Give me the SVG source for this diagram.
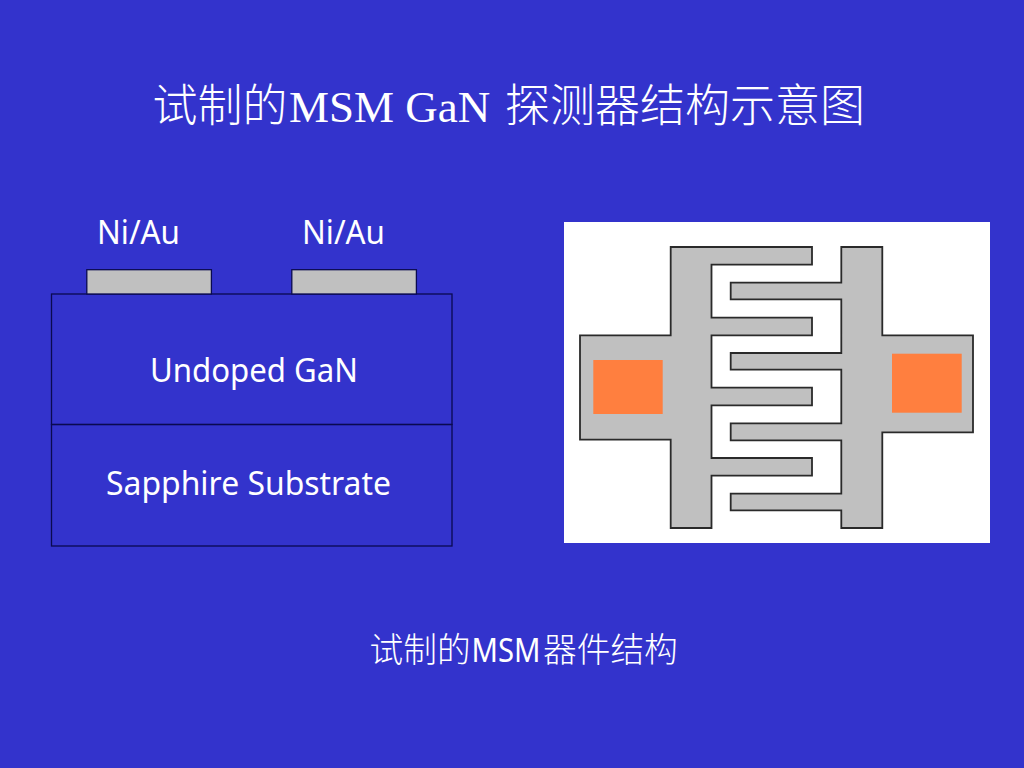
<svg xmlns="http://www.w3.org/2000/svg" width="1024" height="768" viewBox="0 0 1024 768">
<style>
.t{fill:#fff}
.title{font-family:"Liberation Serif",serif;font-size:45px}
.cjk{font-family:"Noto Sans CJK SC",sans-serif;font-weight:300}
.lab{font-family:"Noto Sans","Noto Sans CJK SC",sans-serif;font-size:33.500px}
.cap{font-family:"Noto Sans","Noto Sans CJK SC",sans-serif;font-size:33.500px}
.capc{font-family:"Noto Sans CJK SC",sans-serif;font-size:33.700px;font-weight:300}
.ln{fill:none;stroke:#0a0a50;stroke-width:1.3}
.metal{fill:#c0c0c0;stroke:#0a0a50;stroke-width:1.3}
.el{fill:#c0c0c0;stroke:#2a2a2a;stroke-width:1.800;stroke-linejoin:miter}
.pad{fill:#ff7f3f}
</style>
<rect width="1024" height="768" fill="#3333cc"/>
<text id="title" class="t title" y="122"><tspan class="cjk" x="152.500">试制的</tspan><tspan x="289">MSM GaN</tspan><tspan class="cjk" x="505">探测器结构示意图</tspan></text>
<g id="cross-section">
<rect id="undoped-gan" class="ln" x="51.500" y="294" width="400.500" height="130.500"/>
<rect id="sapphire" class="ln" x="51.500" y="424.500" width="400.500" height="121.500"/>
<rect id="contact-1" class="metal" x="86.800" y="269.700" width="124.600" height="24.300"/>
<rect id="contact-2" class="metal" x="291.800" y="269.700" width="124.600" height="24.300"/>
<text class="t lab" x="97" y="244" textLength="83" lengthAdjust="spacingAndGlyphs">Ni/Au</text>
<text class="t lab" x="302" y="244" textLength="83" lengthAdjust="spacingAndGlyphs">Ni/Au</text>
<text class="t lab" x="150" y="382" textLength="208" lengthAdjust="spacingAndGlyphs">Undoped GaN</text>
<text class="t lab" x="106" y="495" textLength="285" lengthAdjust="spacingAndGlyphs">Sapphire Substrate</text>
</g>
<g id="top-view">
<rect x="564" y="222" width="426" height="321" fill="#fff"/>
<path id="electrode-left" class="el" d="M670.700 247H812V264.700H711.500V317.700H812V335.300H711.500V387.700H812V405.300H711.500V458H812V475.700H711.500V528H670.700V439.700H580V335.300H670.700Z"/>
<path id="electrode-right" class="el" d="M841.300 247H882.300V335.300H973V432.300H882.300V528H841.300V510.300H730.700V493.700H841.300V440.300H730.700V423.300H841.300V369.700H730.700V353H841.300V299.300H730.700V282.700H841.300Z"/>
<rect id="pad-left" class="pad" x="593.300" y="360" width="69.400" height="54"/>
<rect id="pad-right" class="pad" x="892" y="353.700" width="69.700" height="59"/>
</g>
<text id="caption" class="t cap" y="662"><tspan class="capc" x="369.500">试制的</tspan><tspan x="471.500" textLength="69" lengthAdjust="spacingAndGlyphs">MSM</tspan><tspan class="capc" x="543">器件结构</tspan></text>
</svg>
